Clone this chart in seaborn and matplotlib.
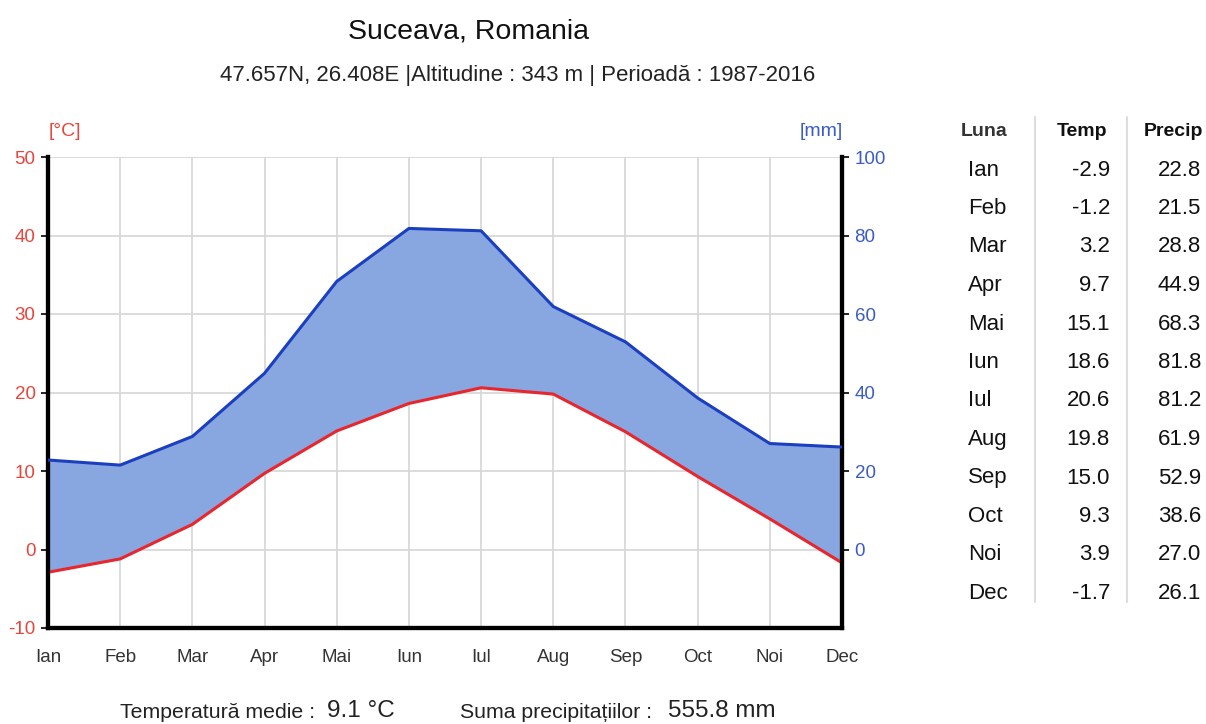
import matplotlib
matplotlib.use("Agg")
import matplotlib.pyplot as plt
from matplotlib.lines import Line2D
import seaborn as sns
import pandas as pd

# climate data, Suceava 1987-2016
months = ['Ian', 'Feb', 'Mar', 'Apr', 'Mai', 'Iun', 'Iul', 'Aug', 'Sep', 'Oct', 'Noi', 'Dec']
temp = [-2.9, -1.2, 3.2, 9.7, 15.1, 18.6, 20.6, 19.8, 15.0, 9.3, 3.9, -1.7]
precip = [22.8, 21.5, 28.8, 44.9, 68.3, 81.8, 81.2, 61.9, 52.9, 38.6, 27.0, 26.1]
temp_ticks = [-10, 0, 10, 20, 30, 40, 50]
precip_ticks = [0, 20, 40, 60, 80, 100]

title = 'Suceava, Romania'
subtitle = '47.657N, 26.408E |Altitudine : 343 m | Perioadă : 1987-2016'
mean_temp = 9.1
sum_precip = 555.8

df = pd.DataFrame({'idx': range(len(months)), 'luna': months, 'temp': temp, 'precip': precip})

sns.set_style("white")
plt.rcParams['font.family'] = ['Liberation Sans', 'DejaVu Sans']

RED = '#e8262d'
RED_TXT = '#e8453c'
BLUE = '#1c3fbf'
BLUE_TXT = '#3a5bc8'
FILL = '#88a6e0'
GRID = '#d6d6d6'

fig = plt.figure(figsize=(12.06, 7.24), dpi=100)
ax = fig.add_axes([48 / 1206, 1 - 628 / 724, (842 - 48) / 1206, (628 - 157) / 724])
ax2 = ax.twinx()

t_lo, t_hi = -10, 50
p_lo, p_hi = -20, 100
ax.set_ylim(t_lo, t_hi)
ax2.set_ylim(p_lo, p_hi)
ax.set_xlim(0, len(months) - 1)

# precipitation expressed in temperature units for the shaded area
scale = (t_hi - t_lo) / (p_hi - p_lo)
df['precip_t'] = df['precip'] * scale
ax.fill_between(df['idx'], df['temp'], df['precip_t'], color=FILL, linewidth=0, zorder=2)

sns.lineplot(data=df, x='idx', y='temp', ax=ax, color=RED, linewidth=2.2, zorder=3)
sns.lineplot(data=df, x='idx', y='precip', ax=ax2, color=BLUE, linewidth=2.2, zorder=3)

ax.set_xticks(df['idx'])
ax.set_xticklabels(months, fontsize=13.5, color='#333333')
ax.set_yticks(temp_ticks)
ax.set_yticklabels([str(v) for v in temp_ticks], fontsize=13.5, color=RED_TXT)
ax2.set_yticks(precip_ticks)
ax2.set_yticklabels([str(v) for v in precip_ticks], fontsize=13.5, color=BLUE_TXT)
ax.set_xlabel('')
ax.set_ylabel('')
ax2.set_ylabel('')

ax.grid(True, color=GRID, linewidth=1.2, zorder=0)
ax.set_axisbelow(True)
for a in (ax, ax2):
    a.spines['top'].set_visible(False)
    a.spines['left'].set_linewidth(3)
    a.spines['bottom'].set_linewidth(3)
    a.spines['right'].set_linewidth(3)
    for s in a.spines.values():
        s.set_color('black')
ax.tick_params(axis='x', direction='out', length=7, width=2, pad=8, color='black')
ax.tick_params(axis='y', direction='out', length=5, width=1.2, pad=4, color='black')
ax2.tick_params(axis='y', direction='out', length=5, width=1.2, pad=4, color='black')

fig.text(65 / 1206, 1 - 131 / 724, '[°C]', color=RED_TXT, fontsize=14, ha='center', va='center')
fig.text(821 / 1206, 1 - 131 / 724, '[mm]', color=BLUE_TXT, fontsize=14, ha='center', va='center')

fig.text(468 / 1206, 1 - 31 / 724, title, fontsize=20.5, ha='center', va='center', color='#111111')
fig.text(518 / 1206, 1 - 75 / 724, subtitle, fontsize=16, ha='center', va='center', color='#222222')

# bottom summary
fig.text(120 / 1206, 1 - 713 / 724, 'Temperatură medie :', fontsize=15.3, ha='left', va='center', color='#222222')
fig.text(395 / 1206, 1 - 711 / 724, f'{mean_temp} °C', fontsize=17.5, ha='right', va='center', color='#222222')
fig.text(460 / 1206, 1 - 713 / 724, 'Suma precipitațiilor :', fontsize=15.3, ha='left', va='center', color='#222222')
fig.text(776 / 1206, 1 - 711 / 724, f'{sum_precip} mm', fontsize=17.5, ha='right', va='center', color='#222222')

# data table on the right
head_y = 1 - 132 / 724
fig.text(961 / 1206, head_y, 'Luna', fontsize=14, weight='bold', ha='left', va='center', color='#333333')
fig.text(1082 / 1206, head_y, 'Temp', fontsize=14, weight='bold', ha='center', va='center', color='#111111')
fig.text(1173 / 1206, head_y, 'Precip', fontsize=14, weight='bold', ha='center', va='center', color='#111111')
row0, step = 170, 38.5
for i, row in df.iterrows():
    y = 1 - (row0 + i * step) / 724
    fig.text(968 / 1206, y, row['luna'], fontsize=16, ha='left', va='center', color='#111111')
    fig.text(1110 / 1206, y, f"{row['temp']:.1f}", fontsize=16, ha='right', va='center', color='#111111')
    fig.text(1201 / 1206, y, f"{row['precip']:.1f}", fontsize=16, ha='right', va='center', color='#111111')
for xs in (1035, 1127):
    fig.add_artist(Line2D([xs / 1206, xs / 1206], [1 - 117 / 724, 1 - 602 / 724],
                          color='#dddddd', linewidth=1.5, transform=fig.transFigure))

fig.savefig('out.png', dpi=100)
